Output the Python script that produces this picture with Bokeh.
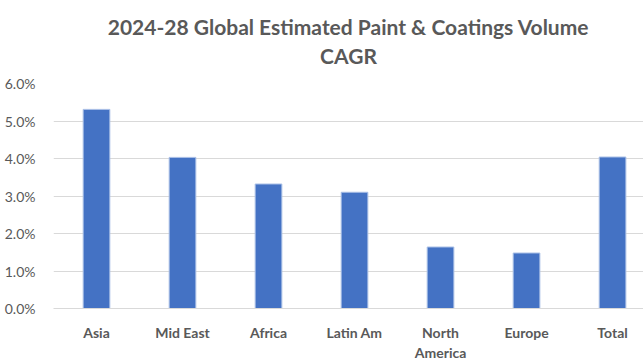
from bokeh.plotting import figure
from bokeh.models import Range1d, FixedTicker, NumeralTickFormatter, Title, ColumnDataSource
from bokeh.embed import file_html
from bokeh.resources import INLINE

categories = ["Asia", "Mid East", "Africa", "Latin Am", "North\nAmerica", "Europe", "Total"]
cagr = [0.0531, 0.0403, 0.0332, 0.0310, 0.0164, 0.0148, 0.0404]
y_ticks = [0.0, 0.01, 0.02, 0.03, 0.04, 0.05, 0.06]
title_text = "2024-28 Global Estimated Paint & Coatings Volume\nCAGR"

positions = list(range(len(categories)))
src = ColumnDataSource(dict(x=positions, y=cagr, cat=categories))

GRAY = "#595959"
FONT = "Lato"

p = figure(width=643, height=363, output_backend="svg", toolbar_location=None,
           x_range=Range1d(-0.5, 6.36), y_range=Range1d(0, 0.06))
p.title = None
p.vbar(x="x", top="y", width=0.31, source=src, fill_color="#4472C4",
       line_color="#A9BFE6", line_width=1)

p.xaxis.ticker = FixedTicker(ticks=positions)
p.xaxis.major_label_overrides = {i: c for i, c in enumerate(categories)}
p.yaxis.ticker = FixedTicker(ticks=y_ticks)
p.yaxis.formatter = NumeralTickFormatter(format="0.0%")

for ax in (p.xaxis, p.yaxis):
    ax.major_tick_line_color = None
    ax.minor_tick_line_color = None
    ax.major_label_text_color = GRAY
    ax.major_label_text_font = FONT
    ax.major_label_text_font_size = "14px"
p.xaxis.major_label_text_font_style = "bold"
p.yaxis.axis_line_color = None
p.xaxis.axis_line_color = "#d9d9d9"
p.xaxis.major_label_standoff = 9
p.yaxis.major_label_standoff = 12

p.xgrid.grid_line_color = None
p.ygrid.grid_line_color = "#d9d9d9"
p.outline_line_color = None

p.min_border_left = 53
p.min_border_right = 0
p.min_border_top = 83
p.min_border_bottom = 52

t = Title(text=title_text, align="center", vertical_align="top", text_align="center",
          text_font=FONT, text_font_size="21px", text_font_style="bold", text_color=GRAY,
          text_line_height=1.16, standoff=27)
p.add_layout(t, "above")

open("out.html", "w").write(file_html(p, INLINE))
